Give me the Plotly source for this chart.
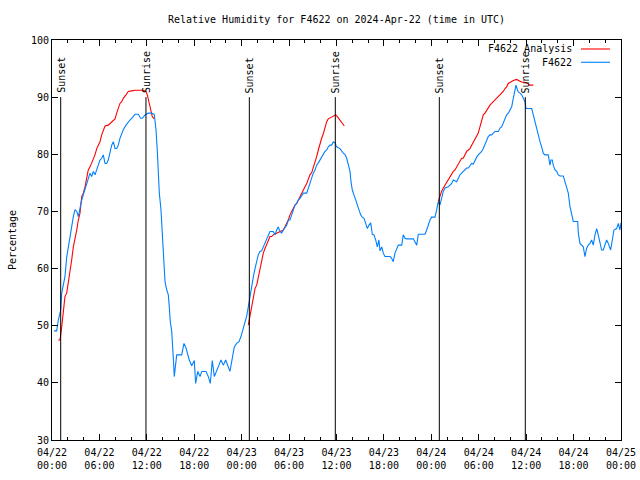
import pandas as pd
import plotly.graph_objects as go

BASE = pd.Timestamp("2024-04-22 00:00")

# ---- Observed F4622 relative humidity (hours since 2024-04-22 00:00 UTC, %) ----
obs_hours = [0.25, 0.59, 0.80, 1.10, 1.23, 1.43, 1.64, 1.86, 2.06, 2.28, 2.49, 2.70, 2.91, 3.13, 3.33, 3.45,
             3.76, 3.96, 4.30, 4.59, 4.81, 5.02, 5.23, 5.44, 5.66, 5.86, 6.07, 6.29, 6.49, 6.71, 6.92, 7.12,
             7.34, 7.55, 7.76, 7.97, 8.19, 8.39, 8.60, 8.82, 9.02, 9.36, 9.65, 9.87, 10.08, 10.50, 10.92, 11.22,
             11.43, 11.77, 12.18, 12.61, 12.94, 13.16, 13.32, 13.45, 13.58, 13.79, 13.88, 14.01, 14.17, 14.30,
             14.51, 14.72, 14.84, 14.97, 15.15, 15.27, 15.40, 15.47, 15.60, 15.78, 16.41, 16.70, 16.92, 17.12,
             17.37, 17.68, 18.00, 18.18, 18.44, 18.73, 18.94, 19.49, 19.78, 20.03, 20.28, 20.54, 20.84, 21.13,
             21.38, 21.67, 21.98, 22.23, 22.52, 22.81, 23.07, 23.37, 23.66, 23.91, 24.21, 24.42, 24.64, 24.84,
             25.05, 25.27, 25.47, 25.69, 25.90, 26.10, 26.32, 26.53, 26.74, 26.95, 27.16, 27.37, 27.58, 28.00,
             28.22, 28.43, 28.63, 28.85, 29.06, 29.27, 29.48, 29.70, 29.90, 30.11, 30.33, 30.75, 30.96, 31.16,
             31.38, 31.59, 31.80, 32.23, 32.43, 32.64, 32.86, 33.06, 33.28, 33.49, 33.70, 33.91, 34.12, 34.33,
             34.54, 34.76, 34.96, 35.18, 35.39, 35.59, 35.81, 36.02, 36.44, 36.86, 37.07, 37.29, 37.49, 37.71,
             37.83, 38.00, 38.21, 38.43, 38.63, 38.85, 39.06, 39.26, 39.48, 39.69, 39.90, 40.11, 40.33, 40.53,
             40.74, 40.96, 41.16, 41.37, 41.50, 41.72, 41.92, 42.13, 42.77, 42.98, 43.18, 43.40, 43.61, 43.82,
             44.25, 44.45, 44.67, 44.88, 45.72, 45.93, 46.15, 46.35, 47.20, 47.41, 47.61, 47.83, 48.04, 48.46,
             48.68, 48.88, 49.09, 49.31, 49.51, 49.73, 50.14, 50.57, 50.78, 51.21, 51.41, 51.62, 51.84, 52.26,
             52.47, 52.68, 52.89, 53.10, 53.31, 53.52, 53.74, 53.94, 54.15, 54.37, 54.57, 54.79, 55.00, 55.20,
             55.42, 55.63, 55.84, 56.05, 56.47, 56.69, 56.90, 57.10, 57.32, 57.53, 57.74, 57.95, 58.17, 58.29,
             58.46, 58.58, 58.71, 58.84, 59.00, 59.22, 59.43, 59.64, 59.85, 59.98, 60.70, 60.90, 61.12, 61.33,
             61.53, 61.75, 61.96, 62.16, 62.38, 62.80, 63.01, 63.14, 63.30, 63.43, 63.65, 63.86, 64.06, 64.28,
             64.70, 64.91, 65.12, 65.33, 65.54, 65.76, 65.96, 66.52, 66.60, 66.81, 67.02, 67.23, 67.44, 67.66,
             67.86, 68.07, 68.29, 68.49, 68.71, 68.92, 69.12, 69.34, 69.55, 69.76, 69.97, 70.18, 70.39, 70.69,
             70.90, 71.11, 71.45, 71.66, 71.87, 72.0]
obs_rh = [49.1, 49.1, 51.0, 52.7, 55.7, 57.5, 58.6, 62.0, 63.8, 65.6, 67.3, 69.1, 70.3, 70.0, 69.1, 70.0,
          72.0, 72.9, 74.3, 75.5, 76.7, 76.1, 77.0, 76.4, 77.3, 78.4, 79.0, 79.3, 79.9, 78.4, 78.4, 79.0,
          80.5, 81.6, 82.2, 81.0, 81.0, 81.6, 82.8, 83.6, 84.3, 85.1, 85.7, 86.0, 86.3, 87.0, 87.0, 86.3,
          86.3, 86.9, 87.2, 87.2, 87.0, 84.3, 80.75, 76.1, 73.2, 70.3, 67.9, 65.0, 60.3, 57.7,
          56.3, 55.4, 53.3, 50.7, 49.0, 46.9, 43.1, 41.1, 42.8, 44.9, 44.9, 46.9, 46.3, 45.2,
          44.0, 43.0, 43.9, 39.9, 42.0, 41.1, 42.0, 42.0, 41.1, 39.9, 43.9, 41.1, 42.3, 43.1,
          44.0, 43.1, 44.0, 43.0, 42.0, 44.3, 46.3, 46.9, 47.2, 48.1, 49.5, 50.7, 51.7, 53.3,
          55.1, 57.5, 58.5, 60.0, 61.2, 62.4, 63.0, 63.1, 63.8, 64.4, 65.0, 65.9, 66.5, 66.5,
          65.9, 66.75, 67.3, 66.5, 66.2, 66.75, 67.3, 67.6, 68.5, 68.5, 69.4, 71.1, 71.4, 72.0,
          72.3, 72.9, 73.2, 73.2, 74.1, 75.2, 76.1, 76.7, 77.25, 78.1, 78.5, 79.0, 79.6, 79.9,
          80.5, 80.75, 81.3, 81.6, 81.6, 82.2, 82.0, 81.3, 81.0, 80.2, 80.0, 79.3, 78.1, 77.0,
          75.2, 73.75, 72.9, 72.0, 71.1, 70.3, 69.4, 69.0, 68.8, 67.9, 67.0, 67.6, 68.0, 66.0,
          65.9, 65.0, 63.8, 65.0, 63.1, 63.8, 62.7, 62.1, 62.1, 61.8, 61.2, 62.7, 63.4, 64.1,
          64.1, 65.9, 65.3, 65.2, 65.2, 64.7, 64.1, 66.0, 66.0, 66.75, 67.6, 68.5, 69.0, 69.0,
          70.3, 71.7, 71.1, 72.6, 73.5, 74.1, 74.3, 74.9, 75.5, 75.2, 75.8, 76.4, 76.7, 77.25,
          77.6, 77.6, 78.1, 78.4, 78.3, 79.0, 79.5, 79.9, 80.2, 80.5, 81.0, 81.9, 82.4, 83.1,
          83.4, 83.4, 83.8, 84.0, 84.0, 84.6, 84.8, 85.4, 86.3, 86.9, 87.2, 87.75, 88.3, 89.2,
          90.4, 91.5, 92.1, 91.5, 90.9, 90.7, 90.4, 89.8, 89.2, 88.0, 88.0, 86.9, 85.7, 84.25,
          83.1, 82.2, 81.3, 80.2, 79.9, 79.9, 78.1, 79.0, 79.0, 78.1, 77.25, 77.0, 76.4, 76.2,
          76.2, 75.2, 74.3, 73.2, 70.9, 69.1, 68.25, 68.25, 66.2, 64.4, 64.1, 63.8, 62.1, 63.6,
          64.1, 64.4, 65.0, 64.1, 65.9, 67.0, 65.9, 64.4, 63.25, 63.25, 64.1, 65.0, 64.4, 63.25,
          65.0, 66.75, 67.0, 67.9, 66.75, 68.0]

# ---- F4622 Analysis (three overnight segments) ----
ana1_hours = [0.80, 1.01, 1.23, 1.43, 1.64, 1.86, 2.06, 2.28, 2.49, 2.70, 2.91, 3.13, 3.33, 3.54, 3.76, 3.96,
              4.18, 4.39, 4.59, 4.81, 5.02, 5.23, 5.44, 5.66, 5.86, 6.07, 6.29, 6.49, 6.71, 7.12, 7.34, 7.76,
              7.97, 8.19, 8.39, 8.60, 8.82, 9.02, 9.36, 9.65, 10.08, 10.50, 11.55, 11.89, 12.06, 12.27, 12.49,
              12.69, 12.94]
ana1_rh = [47.5, 47.5, 49.8, 52.2, 55.1, 55.7, 57.4, 59.2, 61.5, 63.8, 65.0, 66.75, 68.5, 69.7, 72.6, 73.2,
           74.3, 76.1, 77.25, 77.8, 78.4, 79.0, 79.9, 81.0, 81.6, 82.2, 83.4, 84.25, 84.95, 85.1, 85.4, 85.95,
           86.2, 87.2, 88.0, 88.9, 89.2, 89.8, 90.4, 91.0, 91.1, 91.2, 91.2, 91.0, 90.4, 89.2, 87.75,
           86.6, 86.2]
ana2_hours = [24.84, 25.05, 25.27, 25.47, 25.69, 25.90, 26.10, 26.32, 26.53, 26.74, 26.95, 27.16, 27.37, 27.58,
              27.79, 28.00, 28.43, 28.85, 29.27, 29.48, 29.70, 29.90, 30.11, 30.33, 30.53, 30.75, 30.96, 31.16,
              31.38, 31.59, 31.80, 32.01, 32.23, 32.43, 32.64, 32.86, 33.06, 33.28, 33.49, 33.70, 33.91, 34.12,
              34.33, 34.54, 34.76, 34.96, 35.30, 35.59, 35.90, 36.15, 36.44, 36.73, 36.99]
ana2_rh = [50.1, 51.6, 53.3, 55.1, 56.5, 57.1, 58.6, 60.0, 61.5, 62.7, 63.5, 64.1, 65.0, 65.6,
           65.6, 65.9, 66.2, 66.5, 66.75, 67.3, 67.9, 68.5, 69.4, 70.0, 70.5, 71.1, 71.4, 72.0,
           72.6, 73.2, 73.75, 74.3, 74.9, 75.8, 76.4, 76.8, 77.6, 78.4, 79.6, 80.75, 81.9, 82.8,
           83.6, 84.8, 85.7, 86.2, 86.5, 86.75, 86.9, 86.5, 86.0, 85.3, 84.95]
ana3_hours = [48.88, 49.09, 49.31, 49.51, 49.73, 49.94, 50.14, 50.36, 50.57, 50.78, 50.99, 51.21, 51.41, 51.62,
              51.84, 52.04, 52.26, 52.47, 52.68, 52.89, 53.10, 53.31, 53.52, 53.74, 53.94, 54.15, 54.37, 54.57,
              54.79, 55.00, 55.20, 55.42, 55.63, 55.84, 56.05, 56.26, 56.47, 56.69, 56.90, 57.10, 57.32, 57.53,
              57.74, 57.95, 58.17, 58.38, 58.80, 59.00, 59.22, 59.51, 59.85, 60.18, 60.47, 60.90]
ana3_rh = [71.7, 72.9, 73.6, 74.1, 74.6, 75.2, 75.5, 76.1, 76.7, 77.0, 77.25, 77.8, 78.4, 79.0,
           79.3, 79.3, 79.9, 80.5, 80.75, 81.0, 81.6, 82.2, 82.8, 83.4, 83.7, 84.8, 86.0, 86.9,
           87.2, 87.75, 88.2, 88.6, 88.9, 89.2, 89.5, 89.8, 90.1, 90.4, 90.7, 91.0, 91.5, 91.8,
           92.4, 92.6, 92.7, 92.9, 93.1, 93.0, 92.8, 92.6, 92.6, 92.4, 92.1, 92.1]

# ---- Sun events ----
sun_hours = [1.10, 11.89, 24.97, 35.85, 49.01, 59.89]
sun_labels = ["Sunset", "Sunrise", "Sunset", "Sunrise", "Sunset", "Sunrise"]
sun_line_top = 90

RED = "#ff0000"
BLUE = "#0080ff"
FONT = "DejaVu Sans Mono"


def to_time(hours):
    return BASE + pd.to_timedelta(pd.Series(hours, dtype=float), unit="h")


fig = go.Figure()
for i, (hh, rr) in enumerate([(ana1_hours, ana1_rh), (ana2_hours, ana2_rh), (ana3_hours, ana3_rh)]):
    fig.add_trace(go.Scatter(x=to_time(hh), y=rr, mode="lines", name="F4622 Analysis",
                             legendgroup="ana", showlegend=False,
                             line=dict(color=RED, width=1.1)))
fig.add_trace(go.Scatter(x=to_time(obs_hours), y=obs_rh, mode="lines", name="F4622",
                         showlegend=False, line=dict(color=BLUE, width=1.1)))

sun_times = to_time(sun_hours)
for t, lab in zip(sun_times, sun_labels):
    fig.add_shape(type="line", xref="x", yref="y", x0=t, x1=t, y0=30, y1=sun_line_top,
                  line=dict(color="black", width=1))
    fig.add_annotation(x=t, y=sun_line_top, xref="x", yref="y", text=lab, textangle=-90,
                       showarrow=False, xanchor="center", yanchor="bottom", yshift=2,
                       font=dict(family=FONT, size=10, color="black"))

# custom gnuplot-style legend (text, then line sample)
legend_items = [("F4622 Analysis", RED, 0.9775), ("F4622", BLUE, 0.9443)]
for txt, col, yy in legend_items:
    fig.add_annotation(x=0.9174, y=yy, xref="paper", yref="paper", text=txt, showarrow=False,
                       xanchor="right", yanchor="middle",
                       font=dict(family=FONT, size=10, color="black"))
    fig.add_shape(type="line", xref="paper", yref="paper", x0=0.9297, x1=0.9807, y0=yy, y1=yy,
                  line=dict(color=col, width=1.1))

fig.update_layout(
    width=640, height=480,
    margin=dict(l=52, r=19, t=40, b=40, autoexpand=False),
    paper_bgcolor="white", plot_bgcolor="white",
    font=dict(family=FONT, size=10, color="black"),
    title=dict(text="Relative Humidity for F4622 on 2024-Apr-22 (time in UTC)",
               x=0.5, xref="paper", xanchor="center", y=1 - 19 / 480, yanchor="middle",
               font=dict(family=FONT, size=10, color="black")),
    showlegend=False,
    hovermode=False,
)
fig.update_xaxes(
    type="date", range=[BASE, BASE + pd.Timedelta(hours=72)],
    tick0=BASE, dtick=6 * 3600 * 1000, tickformat="%m/%d<br>%H:%M",
    ticks="inside", ticklen=6, tickcolor="black", tickwidth=1,
    minor=dict(dtick=2 * 3600 * 1000, ticks="inside", ticklen=3, tickcolor="black", tickwidth=1),
    showline=True, linecolor="black", linewidth=1, mirror="ticks",
    showgrid=False, zeroline=False, automargin=False, ticklabelstandoff=3,
    tickfont=dict(family=FONT, size=10, color="black"),
)
fig.update_yaxes(
    range=[30, 100], tick0=30, dtick=10,
    ticks="inside", ticklen=6, tickcolor="black", tickwidth=1,
    showline=True, linecolor="black", linewidth=1, mirror="ticks",
    showgrid=False, zeroline=False, automargin=False,
    title=dict(text="Percentage", standoff=12, font=dict(family=FONT, size=10, color="black")),
    tickfont=dict(family=FONT, size=10, color="black"),
)

fig.write_html("out.html", config={"displayModeBar": False, "staticPlot": True},
               post_script="document.body.style.margin='0';document.body.style.padding='0';")
